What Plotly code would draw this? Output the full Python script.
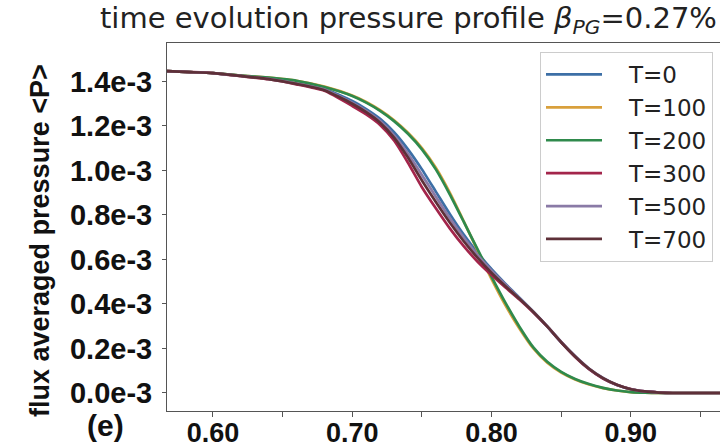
import numpy as np
import plotly.graph_objects as go

# radial coordinate (normalized flux label)
x_vals = [0.567, 0.58, 0.60, 0.62, 0.64, 0.66, 0.68, 0.70, 0.71, 0.72, 0.73, 0.74,
          0.75, 0.76, 0.77, 0.78, 0.79, 0.80, 0.81, 0.82, 0.83, 0.84, 0.85, 0.86,
          0.87, 0.88, 0.89, 0.90, 0.91, 0.92, 0.93, 0.95, 0.97]

# flux averaged pressure, in units of 1e-3
p_T0 = [1.447, 1.443, 1.438, 1.426, 1.413, 1.393, 1.367, 1.312, 1.276, 1.232, 1.172, 1.095,
        1.005, 0.905, 0.805, 0.712, 0.630, 0.556, 0.490, 0.428, 0.365, 0.298, 0.228, 0.164,
        0.108, 0.066, 0.036, 0.017, 0.007, 0.002, 0.0, 0.0, 0.0]
p_T100 = [1.447, 1.443, 1.438, 1.427, 1.417, 1.403, 1.377, 1.337, 1.308, 1.271, 1.226, 1.170,
          1.101, 1.012, 0.900, 0.772, 0.640, 0.512, 0.394, 0.290, 0.200, 0.136, 0.092, 0.061,
          0.038, 0.022, 0.011, 0.004, 0.001, 0.0, 0.0, 0.0, 0.0]
p_T200 = [1.447, 1.443, 1.438, 1.427, 1.417, 1.403, 1.375, 1.335, 1.305, 1.268, 1.222, 1.165,
          1.095, 1.005, 0.893, 0.770, 0.645, 0.522, 0.405, 0.298, 0.205, 0.140, 0.095, 0.063,
          0.040, 0.023, 0.011, 0.004, 0.001, 0.0, 0.0, 0.0, 0.0]
p_T300 = [1.447, 1.443, 1.438, 1.424, 1.410, 1.387, 1.358, 1.290, 1.252, 1.205, 1.135, 1.035,
          0.925, 0.830, 0.740, 0.660, 0.590, 0.530, 0.474, 0.420, 0.362, 0.298, 0.228, 0.162,
          0.107, 0.065, 0.036, 0.018, 0.007, 0.003, 0.0, 0.0, 0.0]
p_T500 = [1.447, 1.443, 1.438, 1.425, 1.412, 1.391, 1.364, 1.305, 1.268, 1.222, 1.158, 1.075,
          0.980, 0.882, 0.786, 0.698, 0.620, 0.550, 0.487, 0.426, 0.365, 0.300, 0.230, 0.166,
          0.110, 0.068, 0.037, 0.017, 0.007, 0.002, 0.0, 0.0, 0.0]
p_T700 = [1.447, 1.443, 1.438, 1.425, 1.411, 1.389, 1.361, 1.300, 1.262, 1.215, 1.148, 1.058,
          0.955, 0.858, 0.766, 0.682, 0.607, 0.540, 0.480, 0.423, 0.364, 0.299, 0.228, 0.164,
          0.109, 0.067, 0.037, 0.017, 0.007, 0.002, 0.0, 0.0, 0.0]

series_names = ["T=0", "T=100", "T=200", "T=300", "T=500", "T=700"]
series_data = [p_T0, p_T100, p_T200, p_T300, p_T500, p_T700]
series_colors = ["#3d6fa6", "#d9a03c", "#2f8a4c", "#a3254b", "#8a7aa6", "#5e3038"]

y_tickvals = [0.0, 0.2e-3, 0.4e-3, 0.6e-3, 0.8e-3, 1.0e-3, 1.2e-3, 1.4e-3]
y_ticktext = ["0.0e-3", "0.2e-3", "0.4e-3", "0.6e-3", "0.8e-3", "1.0e-3", "1.2e-3", "1.4e-3"]
x_tickvals = [0.60, 0.70, 0.80, 0.90]
x_ticktext = ["0.60", "0.70", "0.80", "0.90"]
x_minor = [0.65, 0.75, 0.85, 0.95]

fig = go.Figure()
for name, vals, col in zip(series_names, series_data, series_colors):
    fig.add_trace(go.Scatter(
        x=x_vals, y=np.array(vals) * 1e-3, mode="lines",
        name="\u00a0\u00a0\u00a0" + name, legendgroup=name,
        line=dict(color=col, width=2.7, shape="spline", smoothing=0.5),
    ))

bold = "Liberation Sans"
fig.update_layout(
    width=720, height=448,
    margin=dict(l=167, r=0, t=43, b=37),
    paper_bgcolor="white", plot_bgcolor="white",
    title=dict(
        text="time evolution pressure profile <i>β</i><sub><i>PG</i></sub>=0.27%",
        x=100 / 720, xanchor="left", xref="container",
        y=1 - 18 / 448, yanchor="middle", yref="container",
        font=dict(family="DejaVu Sans", size=29, color="#222"),
    ),
    showlegend=True,
    legend=dict(
        x=(540 - 167) / 553, y=(411 - 52) / 368, xanchor="left", yanchor="top",
        bgcolor="white", bordercolor="#cccccc", borderwidth=1,
        font=dict(family="DejaVu Sans", size=23, color="#222"),
        tracegroupgap=0, itemwidth=56,
    ),
    xaxis=dict(
        range=[0.567, 0.964], tickvals=x_tickvals, ticktext=x_ticktext,
        ticks="outside", ticklen=5, tickcolor="#555", tickwidth=1,
        showline=True, linecolor="#555", linewidth=1, mirror=True,
        showgrid=False, zeroline=False, automargin=False,
        ticklabelstandoff=-7,
        tickfont=dict(family=bold, size=27, color="#111", weight="bold"),
        minor=dict(tickvals=x_minor, ticks="outside", ticklen=5, tickcolor="#555", showgrid=False),
    ),
    yaxis=dict(
        range=[-0.081e-3, 1.573e-3], tickvals=y_tickvals, ticktext=y_ticktext,
        ticks="outside", ticklen=4, tickcolor="#555", tickwidth=1,
        showline=True, linecolor="#555", linewidth=1, mirror=False,
        showgrid=False, zeroline=False, automargin=False,
        ticklabelstandoff=4,
        tickfont=dict(family=bold, size=29, color="#111", weight="bold"),
    ),
)

fig.add_annotation(
    text="flux averaged pressure &lt;P&gt;", textangle=-90,
    xref="paper", yref="paper", x=(40 - 167) / 553, y=(411 - 241) / 368,
    xanchor="center", yanchor="middle", showarrow=False,
    font=dict(family=bold, size=27, color="#111", weight="bold"),
)
fig.add_annotation(
    text="(e)", xref="paper", yref="paper", x=(105 - 167) / 553, y=(411 - 425) / 368,
    xanchor="center", yanchor="middle", showarrow=False,
    font=dict(family=bold, size=30, color="#111", weight="bold"),
)

fig.write_html("out.html")
